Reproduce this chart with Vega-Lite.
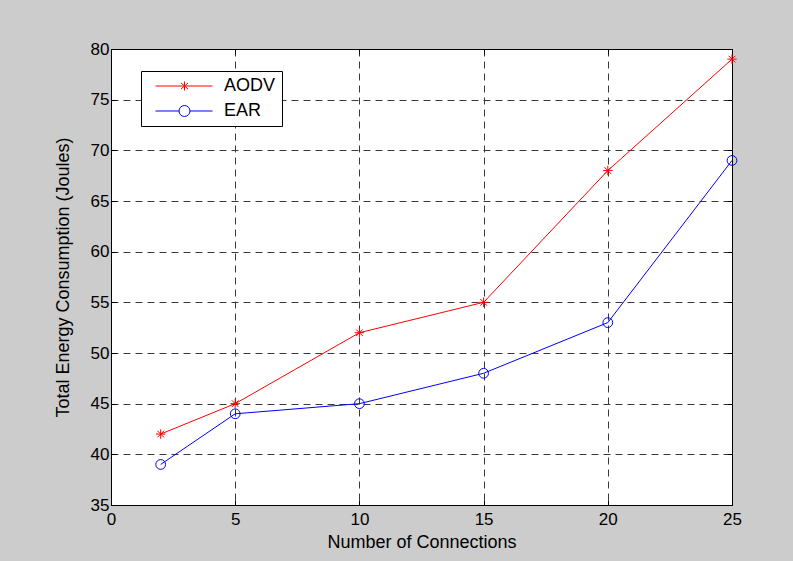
{
  "$schema": "https://vega.github.io/schema/vega-lite/v6.json",
  "width": 621,
  "height": 456,
  "autosize": {"type": "none"},
  "padding": {"left": 111, "top": 49, "right": 61, "bottom": 56},
  "background": "#cccccc",
  "config": {
    "font": "Liberation Sans",
    "view": {"fill": "white", "stroke": "black", "strokeWidth": 1},
    "axis": {
      "domainColor": "black",
      "domainWidth": 1,
      "gridColor": "#3a3a3a",
      "gridDash": [7, 5],
      "gridWidth": 1,
      "gridOpacity": 1,
      "tickColor": "black",
      "tickSize": -5,
      "labelFlush": false,
      "labelColor": "black",
      "labelFont": "Liberation Sans",
      "labelFontSize": 17,
      "titleFont": "Liberation Sans",
      "titleFontSize": 18,
      "titleFontWeight": "normal",
      "titleColor": "black"
    }
  },
  "data": {
    "values": [
      {"series": "AODV", "x": 2, "y": 42},
      {"series": "AODV", "x": 5, "y": 45},
      {"series": "AODV", "x": 10, "y": 52},
      {"series": "AODV", "x": 15, "y": 55},
      {"series": "AODV", "x": 20, "y": 68},
      {"series": "AODV", "x": 25, "y": 79},
      {"series": "EAR", "x": 2, "y": 39},
      {"series": "EAR", "x": 5, "y": 44},
      {"series": "EAR", "x": 10, "y": 45},
      {"series": "EAR", "x": 15, "y": 48},
      {"series": "EAR", "x": 20, "y": 53},
      {"series": "EAR", "x": 25, "y": 69}
    ]
  },
  "layer": [
    {
      "mark": {"type": "line", "strokeWidth": 1},
      "encoding": {
        "x": {
          "field": "x", "type": "quantitative",
          "scale": {"domain": [0, 25], "nice": false},
          "axis": {"orient": "bottom", "values": [0, 5, 10, 15, 20, 25], "title": "Number of Connections", "labelPadding": 11, "titlePadding": 6}
        },
        "y": {
          "field": "y", "type": "quantitative",
          "scale": {"domain": [35, 80], "nice": false, "zero": false},
          "axis": {"orient": "left", "values": [35, 40, 45, 50, 55, 60, 65, 70, 75, 80], "title": "Total Energy Consumption (Joules)", "labelPadding": 7, "titlePadding": 18}
        },
        "color": {
          "field": "series", "type": "nominal",
          "scale": {"domain": ["AODV", "EAR"], "range": ["#ff0000", "#0000ff"]},
          "legend": {
            "title": null,
            "orient": "none",
            "legendX": 30,
            "legendY": 22,
            "padding": 6,
            "fillColor": "white",
            "strokeColor": "black",
            "symbolSize": 100,
            "symbolStrokeWidth": 1,
            "labelFont": "Liberation Sans",
            "labelFontSize": 18,
            "labelColor": "black",
            "labelOffset": 59,
            "rowPadding": 7,
            "encode": {
              "symbols": {
                "update": {
                  "shape": {"signal": "datum.value === 'AODV' ? 'M-0.1,0H11.3M5.7,-0.9V0.9M5,-0.6L6.4,0.6M5,0.6L6.4,-0.6' : 'M-0.1,0H4.6M6.8,0H11.3M6.8,0A1.1,1.1 0 1,1 4.6,0A1.1,1.1 0 1,1 6.8,0Z'"},
                  "fill": {"value": "transparent"},
                  "strokeWidth": {"value": 1},
                  "opacity": {"value": 1}
                }
              }
            }
          }
        }
      }
    },
    {
      "transform": [{"filter": "datum.series === 'AODV'"}],
      "mark": {"type": "point", "filled": false, "strokeWidth": 1, "size": 90, "opacity": 1, "shape": "M-1,0H1M0,-1V1M-0.7,-0.7L0.7,0.7M-0.7,0.7L0.7,-0.7"},
      "encoding": {
        "x": {
          "field": "x", "type": "quantitative",
          "axis": {"orient": "top", "values": [0, 5, 10, 15, 20, 25], "labels": false, "grid": false, "title": null}
        },
        "y": {
          "field": "y", "type": "quantitative",
          "axis": {"orient": "right", "values": [35, 40, 45, 50, 55, 60, 65, 70, 75, 80], "labels": false, "grid": false, "title": null}
        },
        "color": {"field": "series", "type": "nominal"}
      }
    },
    {
      "transform": [{"filter": "datum.series === 'EAR'"}],
      "mark": {"type": "point", "filled": false, "strokeWidth": 1, "size": 95, "opacity": 1, "shape": "circle"},
      "encoding": {
        "x": {"field": "x", "type": "quantitative", "axis": null},
        "y": {"field": "y", "type": "quantitative", "axis": null},
        "color": {"field": "series", "type": "nominal"}
      }
    }
  ]
}
